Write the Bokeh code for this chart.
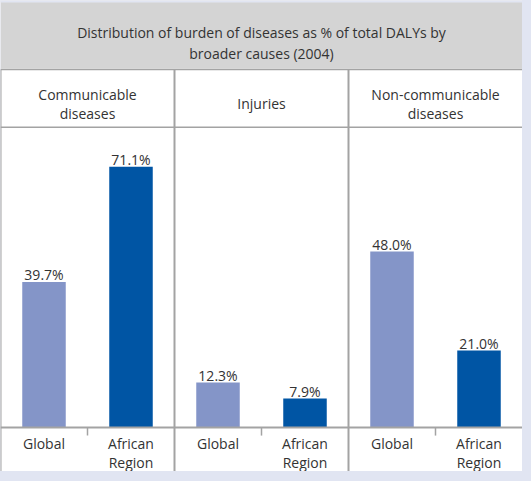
from bokeh.plotting import figure
from bokeh.models import (FactorRange, Range1d, CategoricalAxis, BoxAnnotation,
                          Span, ColumnDataSource)
from bokeh.core.properties import value
from bokeh.embed import file_html
from bokeh.resources import INLINE

# ---------------- data ----------------
title_lines = ["Distribution of burden of diseases as % of total DALYs by",
               "broader causes (2004)"]
causes = ["Communicable diseases", "Injuries", "Non-communicable diseases"]
cause_labels = ["Communicable\ndiseases", "Injuries", "Non-communicable\ndiseases"]
regions = ["Global", "African\nRegion"]
global_pct = [39.7, 12.3, 48.0]
african_pct = [71.1, 7.9, 21.0]

# ---------------- style ----------------
PAGE_BG = "#e1e5f2"
BAND = "#d4d4d4"
RULE = "#a3a3a3"
TXT = "#333333"
C_GLOBAL = "#8495c8"
C_AFRICA = "#0055a4"
FONT = "Open Sans"
FS = "14px"

W, H = 522, 471
S = 0.986            # screen scale observed in the snapshot
TOP = 8              # figure top, snapshot px
ZERO = 429           # zero line, snapshot px
PPU = 3.615          # snapshot px per percentage point


def ydat(py):
    """snapshot pixel row -> data y"""
    return (ZERO - py) / PPU


factors = [(c, r) for c in causes for r in regions]
x_range = FactorRange(factors=factors, factor_padding=0, group_padding=0,
                      subgroup_padding=0, range_padding=0)
y_range = Range1d(ydat(TOP + H * S), ydat(TOP))

p = figure(width=W, height=H, x_range=x_range, y_range=y_range,
           output_backend="svg", toolbar_location=None,
           x_axis_location=None, y_axis_location=None, min_border=0)
p.outline_line_color = None
p.background_fill_color = "white"
p.border_fill_color = PAGE_BG
p.grid.visible = False

# title band and rules
p.add_layout(BoxAnnotation(bottom=ydat(75), fill_color=BAND, fill_alpha=1,
                           line_color=None, level="underlay"))
p.add_layout(BoxAnnotation(bottom=ydat(10), fill_color=PAGE_BG, fill_alpha=1,
                           line_color=None, level="underlay"))
p.add_layout(Span(location=ydat(76), dimension="width", line_color=RULE, line_width=1.5))
p.add_layout(Span(location=ydat(133), dimension="width", line_color=RULE, line_width=1.5))

# vertical dividers between causes and the left border
div_x = [(causes[0], regions[0], -0.5)] + [(c, regions[-1], 0.5) for c in causes[:-1]]
p.segment(x0=div_x, x1=div_x, y0=[ydat(76)] * len(div_x),
          y1=[y_range.start] * len(div_x), line_color=RULE, line_width=2)

# small ticks between the two bars of each cause
tick_x = [(c, regions[0], 0.5) for c in causes]
p.segment(x0=tick_x, x1=tick_x, y0=[0] * len(tick_x), y1=[ydat(437)] * len(tick_x),
          line_color=RULE, line_width=1.5)

# bars
src = ColumnDataSource(dict(
    x=factors,
    y=[v for pair in zip(global_pct, african_pct) for v in pair],
    color=[C_GLOBAL, C_AFRICA] * len(causes),
))
src.data["label"] = ["%.1f%%" % v for v in src.data["y"]]
p.vbar(x="x", top="y", width=0.5, bottom=0, fill_color="color", line_color=None, source=src)
p.text(x="x", y="y", text="label", source=src, text_align="center",
       text_baseline="alphabetic", y_offset=-7, text_font=value(FONT),
       text_font_size=FS, text_color=TXT)

# title (two lines, baselines at 40 and 60)
p.text(x=["Injuries"] * len(title_lines),
       y=[ydat(40 + 20 * i) for i in range(len(title_lines))],
       text=title_lines, text_align="center", text_baseline="alphabetic",
       text_font=value(FONT), text_font_size=FS, text_color=TXT)

# cause headers (block centred on baseline 110, 18 px line spacing)
hx, hy, ht = [], [], []
for c, lab in zip(causes, cause_labels):
    lines = lab.split("\n")
    n = len(lines)
    for i, ln in enumerate(lines):
        hx.append(c)
        hy.append(ydat(110 + (i - (n - 1) / 2) * 18))
        ht.append(ln)
p.text(x=hx, y=hy, text=ht, text_align="center", text_baseline="alphabetic",
       text_font=value(FONT), text_font_size=FS, text_color=TXT)

# category axis drawn at zero
ax = CategoricalAxis(fixed_location=0)
ax.axis_line_color = RULE
ax.axis_line_width = 2
ax.major_tick_line_color = None
ax.major_tick_in = 0
ax.major_tick_out = 0
ax.major_label_standoff = 7
ax.major_label_text_font = FONT
ax.major_label_text_font_size = FS
ax.major_label_text_color = TXT
ax.major_label_text_line_height = 1.0
ax.group_text_color = None
ax.separator_line_color = None
p.add_layout(ax, "below")

html = file_html(p, INLINE)
html = html.replace("</head>", "<style>body{background:%s}</style></head>" % PAGE_BG, 1)
open("out.html", "w").write(html)
